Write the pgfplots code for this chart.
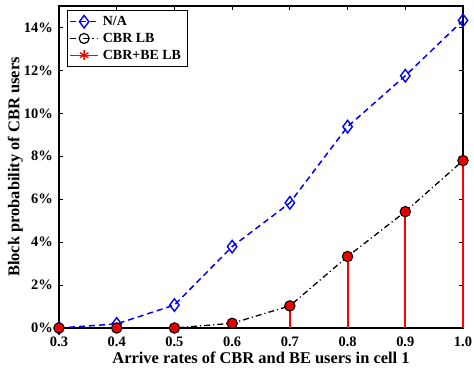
\documentclass[border=0pt]{standalone}
\usepackage{pgfplots}
\pgfplotsset{compat=1.18}
\usepackage{fontspec}
\setmainfont{Liberation Serif}
\pgfplotstableread{
x na cbr
0.3 0.00 0.00
0.4 0.19 0.00
0.5 1.07 0.00
0.6 3.79 0.22
0.7 5.83 1.03
0.8 9.38 3.33
0.9 11.75 5.42
1.0 14.33 7.80
}\datatable
\begin{document}
\begin{tikzpicture}
\path[use as bounding box] (-59bp,-43bp) rectangle (415bp,328bp);
\begin{axis}[
  at={(0,0)}, anchor=south west,
  scale only axis, width=404bp, height=322bp,
  xmin=0.3, xmax=1.0, ymin=0, ymax=15,
  xtick={0.3,0.4,0.5,0.6,0.7,0.8,0.9,1.0}, ytick={0,2,...,14},
  tick align=inside, tick pos=both,
  major tick length=4bp,
  axis line style={line width=1.1pt},
  every tick/.style={black, line width=0.8pt},
  /pgf/number format/assume math mode=true,
  tick label style={font=\fontsize{14.5}{16}\selectfont\bfseries, inner sep=0pt},
  xticklabel={\pgfmathprintnumber[fixed,fixed zerofill,precision=1]{\tick}},
  yticklabel={\pgfmathprintnumber[fixed,precision=0]{\tick}\%},
  xticklabel style={anchor=center, yshift=-14bp},
  yticklabel style={anchor=east, xshift=-6bp},
  xlabel={Arrive rates of CBR and BE users in cell 1},
  ylabel={Block probability of CBR users},
  label style={font=\fontsize{16.5}{18}\selectfont\bfseries},
  xlabel style={at={(axis description cs:0.5,0)}, anchor=center, yshift=-30bp},
  ylabel style={at={(axis description cs:-0.108,0.5)}, anchor=center},
  legend style={at={(axis description cs:0.0198,0.9876)}, anchor=north west, draw=black, line width=0.8pt,
    font=\fontsize{14}{16}\selectfont\bfseries, inner sep=2bp, row sep=-2bp,
    nodes={inner sep=4bp}},
  legend image code/.code={\draw[mark repeat=2,mark phase=2,#1] plot coordinates {(0bp,0bp) (14bp,0bp) (28bp,0bp)};},
  legend cell align=left,
  clip=false,
]
\addplot[blue, dash pattern=on 6bp off 4bp, line width=1.5pt, mark=diamond, mark size=6.3pt,
  mark options={solid, line width=1.4pt, fill=none}] table[x=x,y=na] {\datatable};
\addlegendentry{N/A}
\addplot[black, dash pattern=on 6bp off 3bp on 1.2bp off 3bp, line width=1.3pt, forget plot] table[x=x,y=cbr] {\datatable};
\addplot[red, line width=2bp, ycomb, no marks, forget plot] table[x=x,y=cbr] {\datatable};
\addplot[only marks, mark=*, mark size=5.2pt, mark options={draw=black, fill=red, line width=1.1pt}, forget plot] table[x=x,y=cbr] {\datatable};
\addplot[only marks, red!80!black, mark=asterisk, mark size=3.5pt, mark options={line width=0.8pt}, forget plot] table[x=x,y=cbr] {\datatable};
\addlegendimage{black, dash pattern=on 6bp off 3bp on 1.2bp off 3bp, line width=1.3pt, mark=o, mark size=5pt, mark options={solid, line width=1.2pt, fill=white}}
\addlegendentry{CBR LB}
\addlegendimage{red, line width=1.3pt, mark=asterisk, mark size=5pt, mark options={line width=1.3pt}}
\addlegendentry{CBR+BE LB}
\end{axis}
\end{tikzpicture}
\end{document}
